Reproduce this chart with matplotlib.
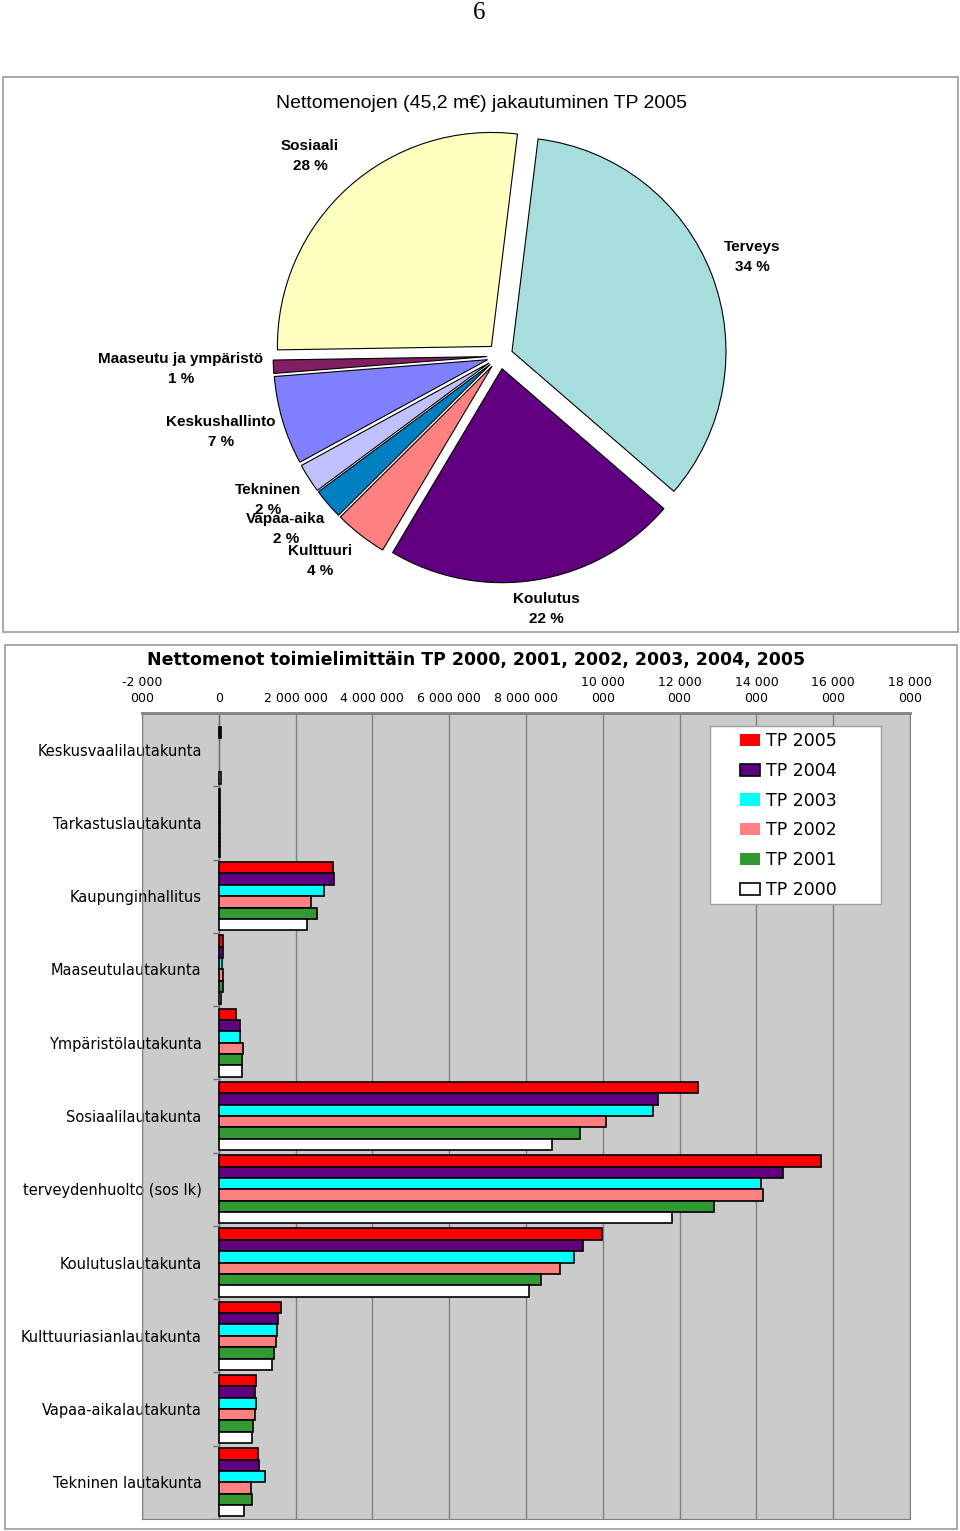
import numpy as np
import matplotlib.pyplot as plt
from matplotlib.patches import Rectangle

# --- pie: net expenditure shares TP 2005, clockwise from top ---
pie_names = ['Terveys', 'Koulutus', 'Kulttuuri', 'Vapaa-aika', 'Tekninen',
             'Keskushallinto', 'Maaseutu ja ympäristö', 'Sosiaali']
pie_share = [34.4, 22.2, 4.0, 2.3, 2.2, 6.7, 1.0, 27.2]
pie_pct = ['34 %', '22 %', '4 %', '2 %', '2 %', '7 %', '1 %', '28 %']
pie_colors = ['#a6dede', '#600080', '#ff8080', '#0080c0', '#c0c0ff',
              '#8080ff', '#802060', '#ffffc0']
# label centres in page pixels
pie_label_xy = [(752, 257), (546, 609), (320, 561), (286, 529), (268, 500),
                (221, 432), (181, 369), (310, 156)]

# --- bars: net expenditure by committee (euros) ---
committees = ['Keskusvaalilautakunta', 'Tarkastuslautakunta', 'Kaupunginhallitus',
              'Maaseutulautakunta', 'Ympäristölautakunta', 'Sosiaalilautakunta',
              'terveydenhuolto (sos lk)', 'Koulutuslautakunta',
              'Kulttuuriasianlautakunta', 'Vapaa-aikalautakunta', 'Tekninen lautakunta']
years = ['TP 2005', 'TP 2004', 'TP 2003', 'TP 2002', 'TP 2001', 'TP 2000']
tp2005 = [0, 35000, 2970000, 110000, 450000, 12480000, 15670000, 9970000, 1610000, 980000, 1010000]
tp2004 = [70000, 35000, 3000000, 110000, 560000, 11430000, 14700000, 9480000, 1530000, 930000, 1050000]
tp2003 = [0, 35000, 2740000, 80000, 550000, 11310000, 14130000, 9250000, 1520000, 980000, 1200000]
tp2002 = [0, 35000, 2390000, 110000, 640000, 10080000, 14160000, 8890000, 1500000, 930000, 850000]
tp2001 = [0, 35000, 2550000, 110000, 600000, 9400000, 12900000, 8390000, 1450000, 900000, 860000]
tp2000 = [65000, 35000, 2290000, 70000, 600000, 8690000, 11800000, 8090000, 1390000, 860000, 660000]
bar_colors = ['#ff0000', '#600080', '#00ffff', '#ff8080', '#339933', '#ffffff']
x_ticks = [-2e6, 0, 2e6, 4e6, 6e6, 8e6, 10e6, 12e6, 14e6, 16e6, 18e6]
x_ticklabels = ['-2 000\n000', '0', '2 000 000', '4 000 000', '6 000 000', '8 000 000',
                '10 000\n000', '12 000\n000', '14 000\n000', '16 000\n000', '18 000\n000']

W, H = 960, 1531
fig = plt.figure(figsize=(W / 100, H / 100), dpi=100)


def fx(x):
    return x / W


def fy(y):
    return 1 - y / H


# page number and boxes
fig.text(fx(479), fy(13), '6', ha='center', va='center', fontsize=18,
         family='Liberation Serif')
fig.add_artist(Rectangle((fx(3), fy(632)), fx(955), 555 / H, transform=fig.transFigure,
                         fill=False, ec='#9a9a9a', lw=1.2))
fig.add_artist(Rectangle((fx(5), fy(1529)), fx(952), 884 / H, transform=fig.transFigure,
                         fill=False, ec='#9a9a9a', lw=1.2))

# pie chart
fig.text(fx(481), fy(104), 'Nettomenojen (45,2 m€) jakautuminen TP 2005', ha='center',
         va='center', fontsize=14, family='Liberation Sans')
cx, cy, r = 500, 356, 214
ax_pie = fig.add_axes([fx(cx - 1.25 * r), fy(cy + 1.25 * r), 2.5 * r / W, 2.5 * r / H])
ax_pie.pie(pie_share, colors=pie_colors, startangle=83, counterclock=False,
           explode=[0.06] * len(pie_share),
           wedgeprops=dict(edgecolor='black', linewidth=0.8))
ax_pie.set_xlim(-1.25, 1.25)
ax_pie.set_ylim(-1.25, 1.25)
ax_pie.set_aspect('auto')
ax_pie.axis('off')
for name, pct, (lx, ly) in zip(pie_names, pie_pct, pie_label_xy):
    fig.text(fx(lx), fy(ly), name + '\n' + pct, ha='center', va='center',
             fontsize=11, weight='bold', family='Liberation Sans', linespacing=1.5)

# bar chart
fig.text(fx(476), fy(660), 'Nettomenot toimielimittäin TP 2000, 2001, 2002, 2003, 2004, 2005',
         ha='center', va='center', fontsize=12.5, weight='bold')
ax = fig.add_axes([fx(142), fy(1519), (910 - 142) / W, (1519 - 713) / H])
ax.set_facecolor('#cbcbcb')
series = [tp2005, tp2004, tp2003, tp2002, tp2001, tp2000]
pos = np.arange(len(committees))
h = 0.155
for j, (vals, col, lab) in enumerate(zip(series, bar_colors, years)):
    vals = np.array(vals)
    lw = np.where(vals > 0, 1.2, 0)
    ax.barh(pos + (j - 2.5) * h, vals, height=h, color=col, edgecolor='black',
            linewidth=lw, label=lab, zorder=3)
ax.set_xlim(-2e6, 18e6)
ax.set_ylim(len(committees) - 0.5, -0.5)
ax.grid(axis='x', color='#808080', linewidth=1, zorder=1)
ax.set_axisbelow(True)
ax.axvline(0, color='#707070', linewidth=1, zorder=2)
ax.hlines(np.arange(len(committees) + 1) - 0.5, -1.5e5, 0, color='#707070',
          linewidth=1, zorder=2)
ax.xaxis.tick_top()
ax.set_xticks(x_ticks)
ax.set_xticklabels(x_ticklabels, fontsize=9, linespacing=1.3)
ax.tick_params(axis='x', length=0, pad=6)
ax.set_yticks(pos)
ax.set_yticklabels(committees, fontsize=10.5)
ax.tick_params(axis='y', length=0, pad=-43)
for lab in ax.get_yticklabels():
    lab.set_zorder(5)
for s in ['left', 'right', 'bottom']:
    ax.spines[s].set_color('#808080')
ax.spines['top'].set_color('#808080')
ax.spines['top'].set_linewidth(2)

# legend box drawn separately to match the wide frame of the original
ax.add_patch(Rectangle((fx(710), fy(904)), 171 / W, 178 / H, transform=fig.transFigure,
                       facecolor='white', edgecolor='#a0a0a0', lw=1, zorder=4))
leg = ax.legend(loc='upper left', bbox_to_anchor=(fx(740), fy(732)),
                bbox_transform=fig.transFigure, borderaxespad=0, borderpad=0,
                fontsize=12.5, frameon=False, handlelength=1.15, handleheight=0.7,
                labelspacing=0.68, handletextpad=0.35)
leg.set_zorder(6)

fig.savefig('out.png', dpi=100)
